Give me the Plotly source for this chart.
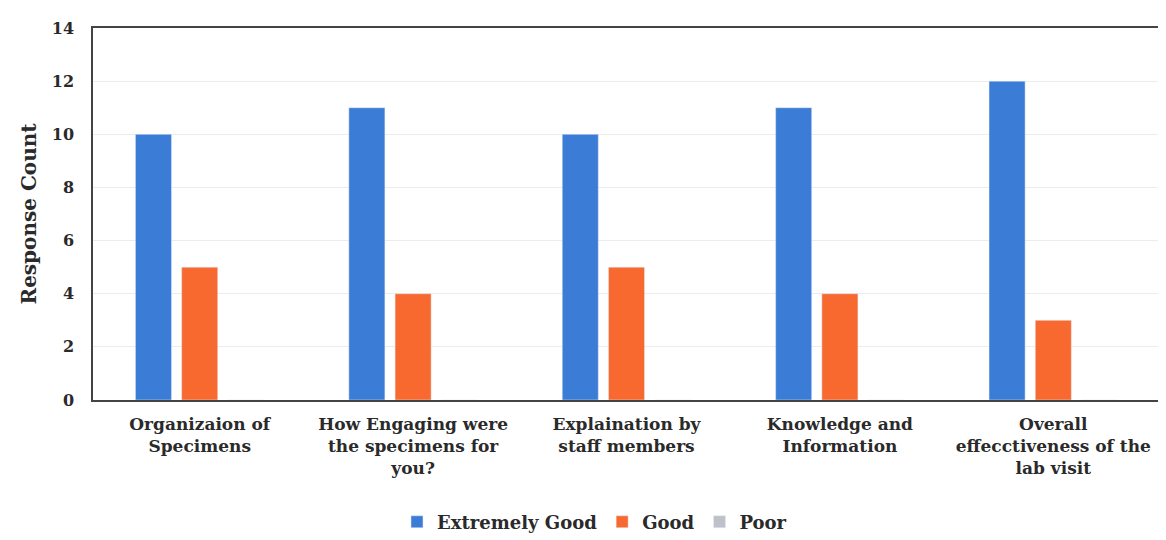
import plotly.graph_objects as go

categories = [
    "Organizaion of<br>Specimens",
    "How Engaging were<br>the specimens for<br>you?",
    "Explaination by<br>staff members",
    "Knowledge and<br>Information",
    "Overall<br>effecctiveness of the<br>lab visit",
]
extremely_good = [10, 11, 10, 11, 12]
good = [5, 4, 5, 4, 3]
poor = [0, 0, 0, 0, 0]
y_ticks = [0, 2, 4, 6, 8, 10, 12, 14]

serif = "DejaVu Serif, serif"
ink = "#2a2a2a"

fig = go.Figure()
fig.add_trace(go.Bar(name="<b>Extremely Good</b>", x=categories, y=extremely_good, marker_color="#3b7dd6"))
fig.add_trace(go.Bar(name="<b>Good</b>", x=categories, y=good, marker_color="#f7692f"))
fig.add_trace(go.Bar(name="<b>Poor</b>", x=categories, y=poor, marker_color="#bfc0c8"))

fig.update_layout(
    width=1166,
    height=540,
    barmode="group",
    bargap=0.35,
    bargroupgap=0.22,
    plot_bgcolor="white",
    paper_bgcolor="white",
    margin=dict(l=85, r=14, t=20, b=148),
    font=dict(family=serif, size=17, color=ink),
    legend=dict(
        orientation="h",
        xref="container",
        yref="container",
        x=0.503,
        y=0.048,
        xanchor="center",
        yanchor="middle",
        font=dict(family=serif, size=18, color=ink),
        traceorder="normal",
    ),
)

fig.update_xaxes(
    automargin=False,
    showline=True,
    linecolor="#444",
    linewidth=1.5,
    mirror=True,
    tickangle=0,
    ticks="",
    ticklabelstandoff=8,
    tickvals=categories,
    ticktext=[f"<b>{c}</b>" for c in categories],
    tickfont=dict(family=serif, size=17, color=ink),
)
fig.update_yaxes(
    automargin=False,
    range=[0, 14],
    tickvals=y_ticks,
    ticktext=[f"<b>{v}</b>" for v in y_ticks],
    showline=True,
    linecolor="#444",
    linewidth=1.5,
    mirror=True,
    showgrid=True,
    gridcolor="#ececec",
    zeroline=False,
    ticks="",
    ticklabelstandoff=14,
    tickfont=dict(family=serif, size=16, color=ink),
    title=dict(text="<b>Response Count</b>", font=dict(family=serif, size=20, color=ink), standoff=10),
)

fig.write_html("out.html")
